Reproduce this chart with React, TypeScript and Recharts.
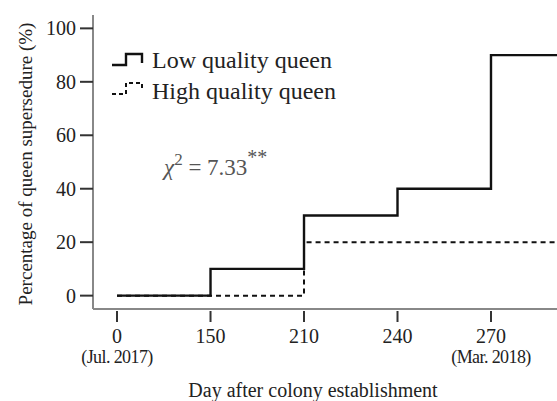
import React from "react";
import { LineChart, Line, XAxis, YAxis } from "recharts";

const days = ["0", "150", "210", "240", "270"];
const dateNotes = ["(Jul. 2017)", "", "", "", "(Mar. 2018)"];
const lowQuality = [0, 10, 30, 40, 90];
const highQuality = [0, 0, 20, 20, 20];
const yTicks = [0, 20, 40, 60, 80, 100];

// steps carry on past the last survey day to the edge of the plot
const data = [
  ...days.map((d, i) => ({ idx: i, low: lowQuality[i], high: highQuality[i] })),
  {
    idx: days.length,
    low: lowQuality[lowQuality.length - 1],
    high: highQuality[highQuality.length - 1],
  },
];

const font = "'Liberation Serif', 'Times New Roman', serif";
const ink = "#222";

const DayTick = (props: any) => {
  const { x, y, payload } = props;
  const i = payload.value;
  return (
    <g>
      <line x1={x} x2={x} y1={y + 2} y2={y + 13} stroke="#333" strokeWidth={2} />
      <text x={x} y={y + 34} textAnchor="middle" fontSize={20} fill={ink} style={{ fontFamily: font }}>
        {days[i]}
      </text>
      {dateNotes[i] && (
        <text x={x} y={y + 54} textAnchor="middle" fontSize={18} fill={ink}
          letterSpacing={-0.6} style={{ fontFamily: font }}>
          {dateNotes[i]}
        </text>
      )}
    </g>
  );
};

const App = () => {
  return (
    <div style={{ position: "absolute", left: 0, top: 0, width: 557, height: 401, background: "#fff" }}>
      <LineChart
        width={557}
        height={401}
        data={data}
        margin={{ top: 15, right: 0, bottom: 0, left: 0 }}
      >
        <XAxis
          type="number"
          dataKey="idx"
          domain={[-0.257, 4.706]}
          allowDataOverflow
          ticks={[0, 1, 2, 3, 4]}
          height={92}
          axisLine={{ stroke: "#888", strokeWidth: 2 }}
          tickLine={false}
          tickSize={0}
          tickMargin={0}
          tick={<DayTick />}
          label={{
            content: (p: any) => {
              const vb = p.viewBox;
              return (
                <text x={313} y={vb.y + vb.height - 4} textAnchor="middle" fontSize={20}
                  fill={ink} style={{ fontFamily: font }}>
                  Day after colony establishment
                </text>
              );
            },
          }}
        />
        <YAxis
          type="number"
          domain={[-5, 105]}
          allowDataOverflow
          ticks={yTicks}
          width={93}
          axisLine={{ stroke: "#888", strokeWidth: 2 }}
          tickLine={{ stroke: "#333", strokeWidth: 2 }}
          tickSize={13}
          tickMargin={4}
          tick={{ fontSize: 20, fill: ink, fontFamily: font }}
          label={{
            content: (p: any) => {
              const vb = p.viewBox;
              const cy = vb.y + vb.height / 2 + 2;
              return (
                <text transform={`translate(25, ${cy}) rotate(-90)`} textAnchor="middle"
                  dominantBaseline="central" fontSize={19} fill={ink} style={{ fontFamily: font }}>
                  Percentage of queen supersedure (%)
                </text>
              );
            },
          }}
        />
        <Line
          type="stepAfter"
          dataKey="high"
          stroke="#111"
          strokeWidth={2}
          strokeDasharray="5 4"
          dot={false}
          isAnimationActive={false}
        />
        <Line
          type="stepAfter"
          dataKey="low"
          stroke="#111"
          strokeWidth={2.4}
          dot={false}
          isAnimationActive={false}
        />
      </LineChart>

      <svg width={557} height={401} style={{ position: "absolute", left: 0, top: 0, pointerEvents: "none", fontFamily: font }}>
        <path d="M112,65 H126 V54 H142 V63" fill="none" stroke="#111" strokeWidth={2.4} />
        <path d="M112,94 H126 V83 H142 V91" fill="none" stroke="#111" strokeWidth={2}
          strokeDasharray="4 3" />
        <text x={152} y={68} fontSize={24} fill={ink}>Low quality queen</text>
        <text x={152} y={99} fontSize={24} fill={ink}>High quality queen</text>
        <text x={164} y={175} fontSize={23} fill="#555">
          <tspan fontStyle="italic">χ</tspan>
          <tspan dy={-10} fontSize={17}>2</tspan>
          <tspan dy={10}> = 7.33</tspan>
          <tspan dy={-11} fontSize={20}>**</tspan>
        </text>
      </svg>
    </div>
  );
};

export default App;
